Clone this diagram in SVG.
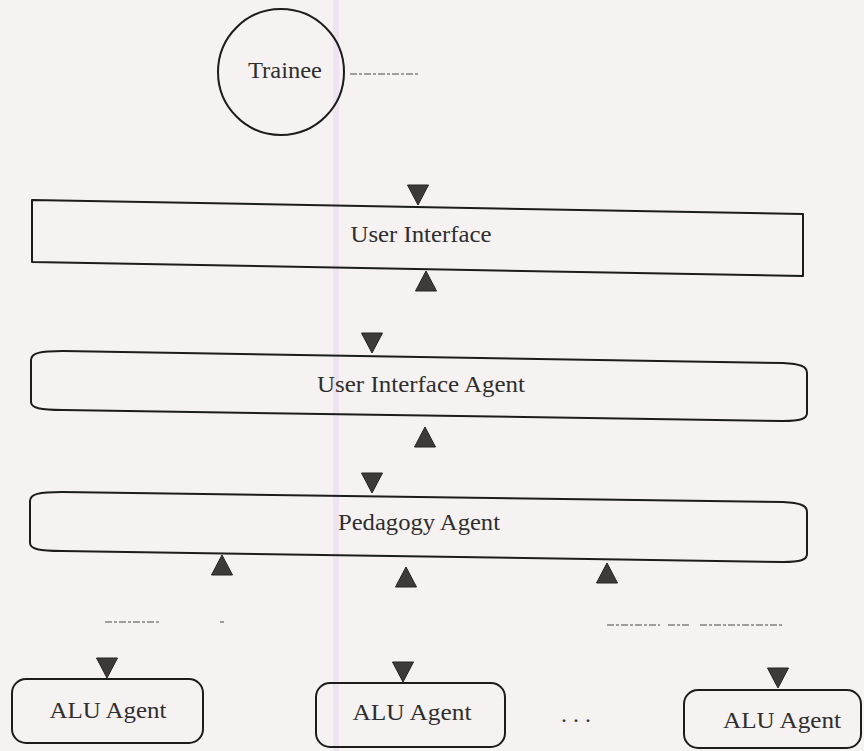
<svg xmlns="http://www.w3.org/2000/svg" xmlns:xlink="http://www.w3.org/1999/xlink" width="864" height="751" viewBox="0 0 864 751">
<style>
.box{fill:none;stroke:#1c1c1c;stroke-width:2;stroke-linejoin:round}
.lbl{font-family:"Liberation Serif","Times New Roman",serif;font-size:24px;fill:#2e2e2e;text-anchor:middle}
.tri{fill:#3e3a3a;stroke:#222;stroke-width:1}
.dash{fill:none;stroke:#4a4a4a;stroke-width:1.2;stroke-dasharray:7 2 3 2}
</style>
<defs>
<path id="down" d="M-10.5,0 L10.5,0 L0,20 Z"/>
<path id="up" d="M0,0 L10.5,20 L-10.5,20 Z"/>
</defs>
<rect width="864" height="751" fill="#f6f2f1"/>
<rect x="333" y="0" width="6" height="751" fill="#eee4ef"/>

<g id="trainee">
<circle cx="281" cy="72" r="63" class="box"/>
<text x="285" y="78" class="lbl" textLength="74" lengthAdjust="spacingAndGlyphs">Trainee</text>
</g>

<g id="user-interface">
<path d="M32,200 L803,214 L803,276 L32,262 Z" class="box"/>
<text x="421" y="242" class="lbl" textLength="141" lengthAdjust="spacingAndGlyphs">User Interface</text>
</g>

<g id="user-interface-agent">
<path d="M31,360 C31,353 40,351 63,351 L783,363 C800,364 807,366 807,373 L807,413 C807,419 800,421 783,421 L63,410 C40,410 31,408 31,402 Z" class="box"/>
<text x="421" y="392" class="lbl" textLength="208" lengthAdjust="spacingAndGlyphs">User Interface Agent</text>
</g>

<g id="pedagogy-agent">
<path d="M30,501 C30,494 39,492 62,492 L783,502 C800,503 807,505 807,512 L807,554 C807,560 800,562 783,562 L62,551 C39,551 30,549 30,543 Z" class="box"/>
<text x="419" y="530" class="lbl" textLength="162" lengthAdjust="spacingAndGlyphs">Pedagogy Agent</text>
</g>

<g id="alu-agent-1">
<rect x="12" y="679" width="191" height="64" rx="14" class="box"/>
<text x="108" y="718" class="lbl" textLength="117" lengthAdjust="spacingAndGlyphs">ALU Agent</text>
</g>

<g id="alu-agent-2">
<rect x="316" y="683" width="189" height="64" rx="14" class="box"/>
<text x="412" y="720" class="lbl" textLength="119" lengthAdjust="spacingAndGlyphs">ALU Agent</text>
</g>

<g id="ellipsis">
<text x="576" y="722" class="lbl">. . .</text>
</g>

<g id="alu-agent-3">
<rect x="684" y="690" width="177" height="58" rx="14" class="box"/>
<text x="782" y="728" class="lbl" textLength="118" lengthAdjust="spacingAndGlyphs">ALU Agent</text>
</g>

<g id="connectors">
<path d="M350,74 L420,74" class="dash"/>
<path d="M105,622 L160,622 M220,622 L224,622" class="dash"/>
<path d="M607,625 L660,625 M668,625 L690,625 M700,625 L782,625" class="dash"/>
<use xlink:href="#down" x="418" y="185" class="tri"/>
<use xlink:href="#up" x="426" y="271" class="tri"/>
<use xlink:href="#down" x="372" y="333" class="tri"/>
<use xlink:href="#up" x="425" y="427" class="tri"/>
<use xlink:href="#down" x="372" y="473" class="tri"/>
<use xlink:href="#up" x="222" y="555" class="tri"/>
<use xlink:href="#up" x="406" y="567" class="tri"/>
<use xlink:href="#up" x="607" y="563" class="tri"/>
<use xlink:href="#down" x="107" y="658" class="tri"/>
<use xlink:href="#down" x="403" y="662" class="tri"/>
<use xlink:href="#down" x="778" y="668" class="tri"/>
</g>
</svg>
